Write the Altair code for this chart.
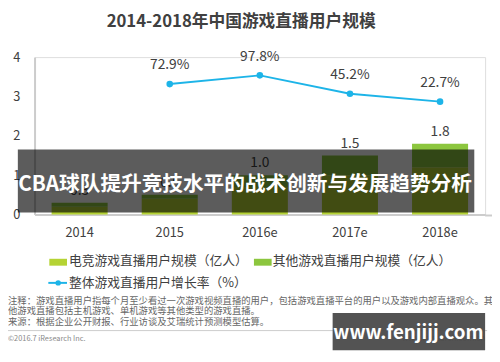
import altair as alt
import pandas as pd

# ---------------- data ----------------
years = ["2014", "2015", "2016e", "2017e", "2018e"]
esports = [0.2, 0.4, 0.7, 1.0, 1.2]       # 电竞游戏直播用户规模（亿人）(estimated split)
others = [0.1, 0.1, 0.3, 0.5, 0.6]        # 其他游戏直播用户规模（亿人）
total_labels = ["0.3", "0.5", "1.0", "1.5", "1.8"]
growth = [None, 72.9, 97.8, 45.2, 22.7]   # 整体游戏直播用户增长率（%）
growth_labels = ["", "72.9%", "97.8%", "45.2%", "22.7%"]

s1 = "电竞游戏直播用户规模（亿人）"
s2 = "其他游戏直播用户规模（亿人）"
s3 = "整体游戏直播用户增长率（%）"

title = "2014-2018年中国游戏直播用户规模"
banner = "CBA球队提升竞技水平的战术创新与发展趋势分析"
notes = [
    "注释：游戏直播用户指每个月至少看过一次游戏视频直播的用户，包括游戏直播平台的用户以及游戏内部直播观众。其",
    "他游戏直播包括主机游戏、单机游戏等其他类型的游戏直播。",
    "来源：根据企业公开财报、行业访谈及艾瑞统计预测模型估算。",
]
copyright_text = "©2016.7 iResearch Inc."
site_text = "www.iresearch.com.cn"
watermark = "www.fenjijj.com"

FONT = "Noto Sans CJK SC"
TXT = "#404040"
C1, C2, C3 = "#b5d334", "#8cc63e", "#1db4e8"

rows = []
for i, y in enumerate(years):
    rows.append({"year": y, "series": s1, "value": esports[i], "ord": 0})
    rows.append({"year": y, "series": s2, "value": others[i], "ord": 1})
bars_df = pd.DataFrame(rows)
tot_df = pd.DataFrame({"year": years,
                       "total": [a + b for a, b in zip(esports, others)],
                       "label": total_labels})
line_df = pd.DataFrame({"year": years, "growth": growth, "label": growth_labels}).dropna()

xscale = alt.Scale(domain=years, paddingInner=0.378, paddingOuter=0.189)
ybar = alt.Scale(domain=[0, 4])
yline = alt.Scale(domain=[-300, 150])

xaxis = alt.Axis(title=None, labelAngle=0, ticks=False, domainColor="#cccccc",
                 domainWidth=2, labelPadding=12, labelFontSize=13,
                 labelColor=TXT, labelFont=FONT, orient="bottom")
yaxis = alt.Axis(values=[0, 1, 2, 3, 4], grid=False, ticks=False, title=None,
                 domainColor="#cccccc", domainWidth=2, labelPadding=15,
                 labelFontSize=13, labelColor=TXT, labelFont=FONT, orient="left")


def X():
    return alt.X("year:N", scale=xscale, sort=years, axis=xaxis)


bars = alt.Chart(bars_df).mark_bar().encode(
    x=X(),
    y=alt.Y("value:Q", stack="zero", scale=ybar, axis=yaxis),
    color=alt.Color("series:N", scale=alt.Scale(domain=[s1, s2], range=[C1, C2]), legend=None),
    order=alt.Order("ord:Q"),
)

bar_labels = alt.Chart(tot_df).mark_text(baseline="bottom", dy=-5, fontSize=14, color=TXT, font=FONT).encode(
    x=X(),
    y=alt.Y("total:Q", scale=ybar, axis=yaxis),
    text="label:N",
)

bar_layer = alt.layer(bars, bar_labels)

line = alt.Chart(line_df).mark_line(color=C3, strokeWidth=2, point=alt.OverlayMarkDef(color=C3, size=45, filled=True, opacity=1)).encode(
    x=X(),
    y=alt.Y("growth:Q", scale=yline, axis=None),
)
line_labels = alt.Chart(line_df).mark_text(baseline="bottom", dy=-12, fontSize=14, color=TXT, font=FONT).encode(
    x=X(),
    y=alt.Y("growth:Q", scale=yline, axis=None),
    text="label:N",
)
line_layer = alt.layer(line, line_labels)

# ---------------- decorations (pixel positions in view space) ----------------
one = alt.Data(values=[{}])


def txt(s, x, y, size, color=TXT, weight="normal", align="left", baseline="middle"):
    return alt.Chart(one).mark_text(text=s, fontSize=size, color=color, fontWeight=weight,
                                    align=align, baseline=baseline, font=FONT).encode(
        x=alt.value(x), y=alt.value(y))


def rect(x, x2, y, y2, color, opacity=1.0):
    return alt.Chart(one).mark_rect(color=color, opacity=opacity).encode(
        x=alt.value(x), x2=alt.value(x2), y=alt.value(y), y2=alt.value(y2))


deco = [
    txt(title, 210, -36, 17, weight="bold", align="center"),
    alt.Chart(one).mark_rule(color="#cccccc", strokeWidth=2).encode(
        x=alt.value(458), x2=alt.value(465), y=alt.value(161)),
    rect(15, 33, 205, 212, C1),
    txt(s1, 35, 207.5, 13),
    rect(223, 241, 205, 212, C2),
    txt(s2, 242, 207.5, 13),
    alt.Chart(one).mark_rule(color=C3, strokeWidth=2).encode(
        x=alt.value(14), x2=alt.value(33), y=alt.value(229.5)),
    alt.Chart(one).mark_point(color=C3, filled=True, opacity=1, size=30).encode(
        x=alt.value(24), y=alt.value(229.5)),
    txt(s3, 35, 229.5, 13),
    txt(notes[0], -27, 248, 9.5, color="#666666"),
    txt(notes[1], -27, 258.5, 9.5, color="#666666"),
    txt(notes[2], -27, 269, 9.5, color="#666666"),
    alt.Chart(one).mark_rule(color="#cccccc", strokeWidth=1).encode(
        x=alt.value(-27), x2=alt.value(460), y=alt.value(278)),
    txt(copyright_text, -27, 287, 7.5, color="#888888"),
    txt(site_text, 458, 287, 8, color="#888888", align="right"),
    # overlays
    rect(-17, 447, 94, 158, "#000000", 0.64),
    txt(banner, 214, 130, 21, color="#ffffff", weight="bold", align="center"),
    rect(303, 458, 260, 298, "#4a4a4a", 0.95),
    txt(watermark, 380, 281, 19, color="#ffffff", weight="bold", align="center"),
]

base = alt.layer(bar_layer, line_layer).resolve_scale(y="independent")
chart = alt.layer(base, *deco).properties(
    width=458, height=160,
    autosize=alt.AutoSizeParams(type="none"),
    padding={"left": 27, "top": 47, "right": 7, "bottom": 147},
).configure_view(stroke=None).configure(background="white")

chart.save("out.html", embed_options={"renderer": "svg", "actions": False})
